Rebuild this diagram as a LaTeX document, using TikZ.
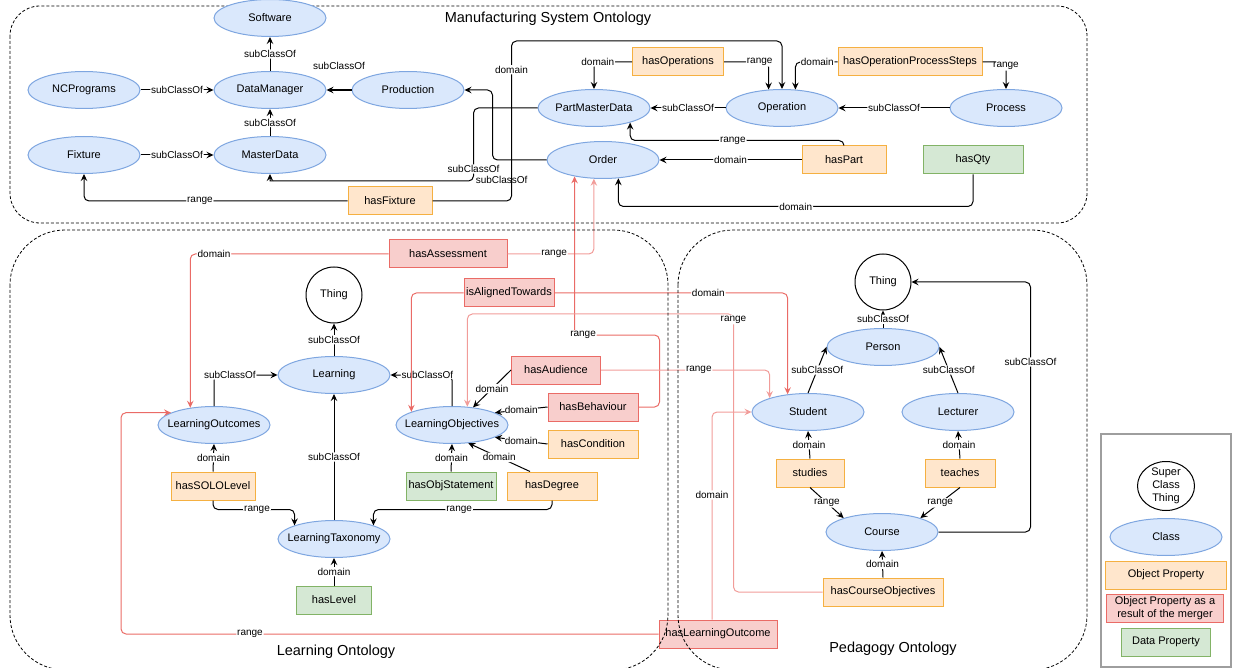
\documentclass[tikz,border=0pt]{standalone}
\usepackage{fontspec}
\setmainfont{Liberation Sans}
\usetikzlibrary{shapes.geometric,arrows.meta,calc}

\definecolor{ClassFill}{HTML}{DAE8FC}
\definecolor{ClassLine}{HTML}{7EA6E0}
\definecolor{ObjFill}{HTML}{FFE6CC}
\definecolor{ObjLine}{HTML}{F5B041}
\definecolor{MergeFill}{HTML}{F8CECC}
\definecolor{MergeLine}{HTML}{EA6B66}
\definecolor{DataFill}{HTML}{D5E8D4}
\definecolor{DataLine}{HTML}{82B366}
\definecolor{RedEdge}{HTML}{EA6B66}
\definecolor{PinkEdge}{HTML}{F19C99}
\definecolor{LegendGray}{HTML}{9E9E9E}

\begin{document}
\begin{tikzpicture}[x=1pt, y=-1pt,
    font=\fontsize{11}{13}\selectfont,
    classnode/.style={ellipse, draw=ClassLine, fill=ClassFill, line width=1pt, minimum width=112pt, minimum height=37pt, inner xsep=-10pt, inner ysep=0pt},
    thingnode/.style={circle, draw, line width=1pt, minimum size=56pt, inner sep=0pt},
    propbox/.style={rectangle, line width=1pt, minimum height=28pt, inner xsep=1.5pt, inner ysep=1pt},
    objprop/.style={propbox, draw=ObjLine, fill=ObjFill},
    mergeprop/.style={propbox, draw=MergeLine, fill=MergeFill},
    dataprop/.style={propbox, draw=DataLine, fill=DataFill},
    lbl/.style={fill=white, inner sep=1pt, font=\fontsize{10}{12}\selectfont},
    rel/.style={-{Stealth[length=7pt,width=6.5pt,inset=2.5pt]}, line width=1pt, rounded corners=5pt},
    relred/.style={rel, draw=RedEdge},
    relpink/.style={rel, draw=PinkEdge},
    ontobox/.style={dashed, dash pattern=on 3pt off 2pt, line width=0.8pt}]
    \useasboundingbox (0,0) rectangle (1234,668);

    \draw[ontobox, rounded corners=30pt] (10,6) rectangle (1087,223);
    \node[font=\fontsize{14.5}{17}\selectfont] (MSOTitle) at (548,19) {Manufacturing System Ontology};
    \node[font=\fontsize{14.5}{17}\selectfont] (LOTitle) at (336,652) {Learning Ontology};
    \node[font=\fontsize{14.5}{17}\selectfont] (POTitle) at (893,649) {Pedagogy Ontology};

    % manufacturing system
    \node[classnode] (Software) at (270,18) {Software};
    \node[classnode] (NCPrograms) at (84,90) {NCPrograms};
    \node[classnode] (DataManager) at (270,90) {DataManager};
    \node[classnode] (Production) at (408,90) {Production};
    \node[classnode] (Fixture) at (84,155) {Fixture};
    \node[classnode] (MasterData) at (270,155) {MasterData};
    \node[classnode] (PartMasterData) at (594,108) {PartMasterData};
    \node[classnode] (Operation) at (782,108) {Operation};
    \node[classnode] (Process) at (1006,108) {Process};
    \node[classnode] (Order) at (603,160) {Order};
    \node[objprop, minimum width=91pt] (hasOperations) at (678,62) {hasOperations};
    \node[objprop, minimum width=144pt] (hasOpSteps) at (910,62) {hasOperationProcessSteps};
    \node[objprop, minimum width=84pt] (hasPart) at (844,160) {hasPart};
    \node[dataprop, minimum width=100pt] (hasQty) at (973,160) {hasQty};
    \node[objprop, minimum width=84pt] (hasFixture) at (390,201) {hasFixture};

    \draw[rel] (DataManager.north) -- node[lbl]{subClassOf} (Software.south);
    \draw[rel] (NCPrograms.east) -- node[lbl]{subClassOf} (DataManager.west);
    \draw[rel] (MasterData.north) -- node[lbl]{subClassOf} (DataManager.south);
    \draw[rel] (Fixture.east) -- node[lbl]{subClassOf} (MasterData.west);
    \draw[rel, line width=1.6pt] (Production.west) -- node[lbl, yshift=24pt]{subClassOf} (DataManager.east);
    \draw[rel] (Order.west) -- ++(-54,0) node[lbl, pos=0.83, yshift=-20pt]{subClassOf} |- (Production.east);
    \draw[rel] (PartMasterData.west) -| ++(-64,73) node[lbl, pos=0.918]{subClassOf} [sharp corners] -| (MasterData.south);
    \draw[rel] (hasFixture.west) -| node[lbl, pos=0.28]{range} (Fixture.south);
    \draw[rel] (hasFixture.east) -| ++(79,-160) node[lbl, pos=0.91]{domain} -| (Operation.north);
    \draw[rel] (hasOperations.west) -| node[lbl, pos=0.45]{domain} (PartMasterData.north);
    \draw[rel] (hasOperations.east) -| node[lbl, pos=0.4]{range} (Operation.126);
    \draw[rel] (hasOpSteps.west) -| node[lbl, pos=0.24]{domain} (Operation.54);
    \draw[rel] (hasOpSteps.east) -| node[lbl, pos=0.57]{range} (Process.north);
    \draw[rel] (Operation.west) -- node[lbl]{subClassOf} (PartMasterData.east);
    \draw[rel] (Process.west) -- node[lbl]{subClassOf} (Operation.east);
    \draw[rel] (hasPart.west) -- node[lbl]{domain} (Order.east);
    \draw[rel] (hasPart.north) -- ++(0,-5) -| node[lbl, pos=0.26]{range} (PartMasterData.-22);
    \draw[rel] (hasQty.south) -- ++(0,32) -| node[lbl, pos=0.25]{domain} (Order.-50);

    % learning
    \node[thingnode] (ThingL) at (334,295) {Thing};
    \node[classnode] (Learning) at (334,375) {Learning};
    \node[classnode] (LearningOutcomes) at (214,425) {LearningOutcomes};
    \node[classnode] (LearningObjectives) at (452,425) {LearningObjectives};
    \node[classnode] (LearningTaxonomy) at (334,539) {LearningTaxonomy};
    \node[objprop, minimum width=84pt] (hasSOLOLevel) at (213,486) {hasSOLOLevel};
    \node[dataprop, minimum width=75pt] (hasLevel) at (334,600) {hasLevel};
    \node[dataprop, minimum width=90pt] (hasObjStatement) at (451,486) {hasObjStatement};
    \node[objprop, minimum width=90pt] (hasDegree) at (552,486) {hasDegree};
    \node[mergeprop, minimum width=118pt] (hasAssessment) at (448,254) {hasAssessment};
    \node[mergeprop, minimum width=90pt] (isAlignedTowards) at (509,293) {isAlignedTowards};
    \node[mergeprop, minimum width=89pt] (hasAudience) at (556,370) {hasAudience};
    \node[mergeprop, minimum width=90pt] (hasBehaviour) at (593,407) {hasBehaviour};
    \node[objprop, minimum width=90pt] (hasCondition) at (593,444) {hasCondition};
    \node[mergeprop, minimum width=118pt] (hasLearningOutcome) at (718,634) {hasLearningOutcome};

    \draw[rel] (Learning.north) -- node[lbl]{subClassOf} (ThingL.south);
    \draw[rel] (LearningOutcomes.north) |- node[lbl, pos=0.625]{subClassOf} (Learning.west);
    \draw[rel] (LearningObjectives.north) |- node[lbl, pos=0.7]{subClassOf} (Learning.east);
    \draw[rel] (LearningTaxonomy.north) -- node[lbl]{subClassOf} (Learning.south);
    \draw[rel] (hasSOLOLevel.north) -- node[lbl]{domain} (LearningOutcomes.south);
    \draw[rel] (hasSOLOLevel.south) -- ++(0,9) -| node[lbl, pos=0.27]{range} (LearningTaxonomy.161);
    \draw[rel] (hasDegree.south) -- ++(0,9) -| node[lbl, pos=0.26]{range} (LearningTaxonomy.19);
    \draw[rel] (hasLevel.north) -- node[lbl]{domain} (LearningTaxonomy.south);
    \draw[rel] (hasObjStatement.north) -- node[lbl]{domain} (LearningObjectives.south);
    \draw[rel] ($(hasDegree.north)+(-22,0)$) -- node[lbl]{domain} (LearningObjectives.-48);
    \draw[rel] (hasCondition.west) -- node[lbl]{domain} (LearningObjectives.-16);
    \draw[rel] (hasBehaviour.west) -- node[lbl]{domain} (LearningObjectives.16);
    \draw[rel] (hasAudience.west) -- node[lbl]{domain} (LearningObjectives.40);

    % pedagogy
    \node[thingnode] (ThingP) at (883,282) {Thing};
    \node[classnode] (Person) at (883,347) {Person};
    \node[classnode] (Student) at (808,412) {Student};
    \node[classnode] (Lecturer) at (958,412) {Lecturer};
    \node[objprop, minimum width=68pt] (studies) at (810,473) {studies};
    \node[objprop, minimum width=70pt] (teaches) at (960,473) {teaches};
    \node[classnode] (Course) at (882,532) {Course};
    \node[objprop, minimum width=120pt] (hasCourseObjectives) at (883,592) {hasCourseObjectives};

    \draw[rel] (Person.north) -- node[lbl]{subClassOf} (ThingP.south);
    \draw[rel] (Student.north) -- node[lbl]{subClassOf} (Person.west);
    \draw[rel] (Lecturer.north) -- node[lbl]{subClassOf} (Person.east);
    \draw[rel] (Course.east) -- ++(92,0) |- node[lbl, pos=0.34]{subClassOf} (ThingP.east);
    \draw[rel] (studies.north) -- node[lbl]{domain} (Student.south);
    \draw[rel] (studies.south) -- node[lbl]{range} (Course.160);
    \draw[rel] (teaches.north) -- node[lbl]{domain} (Lecturer.south);
    \draw[rel] (teaches.south) -- node[lbl]{range} (Course.20);
    \draw[rel] (hasCourseObjectives.north) -- node[lbl]{domain} (Course.south);

    % merger links
    \draw[relred] (hasAssessment.west) -| node[lbl, pos=0.44]{domain} (LearningOutcomes.144);
    \draw[relpink] (hasAssessment.east) -| node[lbl, pos=0.27]{range} (Order.-116);
    \draw[relred] (hasBehaviour.east) -| ++(21,-72) -| node[lbl, pos=0.45]{range} (Order.-150);
    \draw[relred] (isAlignedTowards.west) -| (LearningObjectives.162);
    \draw[relred] (isAlignedTowards.east) -| node[lbl, pos=0.33]{domain} (Student.139);
    \draw[relpink] (hasCourseObjectives.west) -| ++(-89,-278) node[lbl, pos=0.99]{range} -| (LearningObjectives.50);
    \draw[relpink] (hasAudience.east) -| node[lbl, pos=0.29]{range} (Student.160);
    \draw[relpink] ($(hasLearningOutcome.north)+(-6,0)$) |- node[lbl, pos=0.3]{domain} (Student.west);
    \draw[relred] (hasLearningOutcome.west) -| node[lbl, pos=0.38]{range} ($(LearningOutcomes.164)+(-50,0)$) -- (LearningOutcomes.164);

    \draw[ontobox, rounded corners=55pt] (10,230) rectangle (668,670);
    \draw[ontobox, rounded corners=55pt] (678,230) rectangle (1087,670);

    % legend
    \draw[draw=LegendGray, line width=1.5pt] (1101,434) rectangle (1231,667);
    \node[thingnode, ellipse, minimum width=57pt, minimum height=49pt, inner sep=-4pt, align=center] (LegThing) at (1166,486) {Super\\Class\\Thing};
    \node[classnode] (LegClass) at (1166,537) {Class};
    \node[objprop, minimum width=121pt] (LegObj) at (1166,575) {Object Property};
    \node[mergeprop, minimum width=117pt, align=center, font=\fontsize{11}{12.5}\selectfont] (LegMerge) at (1165,608) {Object Property as a\\result of the merger};
    \node[dataprop, minimum width=89pt] (LegData) at (1166,642) {Data Property};
\end{tikzpicture}
\end{document}
